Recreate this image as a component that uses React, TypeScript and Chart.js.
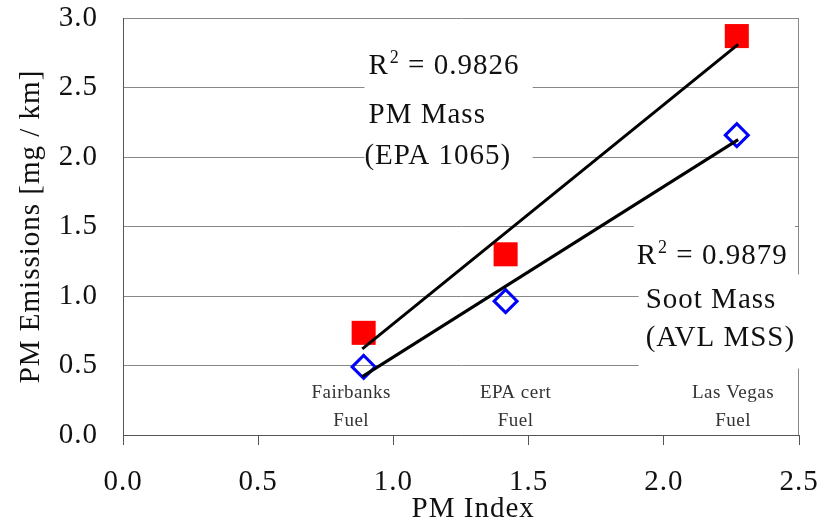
import React, { useEffect, useRef } from "react";
import { Chart, registerables } from "chart.js";

Chart.register(...registerables);

// ---- data ----
const pmIndex = [0.89, 1.415, 2.27];
const pmMass = [0.735, 1.3, 2.87];
const sootMass = [0.49, 0.963, 2.157];
const trendX = [0.885, 2.275];
const pmMassTrend = [0.62, 2.81];
const sootMassTrend = [0.42, 2.125];
const xTickValues = [0, 0.5, 1.0, 1.5, 2.0, 2.5];
const yTickValues = [0, 0.5, 1.0, 1.5, 2.0, 2.5, 3.0];
const fuelNames = [
  ["Fairbanks", "Fuel"],
  ["EPA cert", "Fuel"],
  ["Las Vegas", "Fuel"],
];
const pmMassR2 = "0.9826";
const sootMassR2 = "0.9879";
const pmMassLabel = ["PM Mass", "(EPA 1065)"];
const sootMassLabel = ["Soot Mass", "(AVL MSS)"];
const xTitle = "PM Index";
const yTitle = "PM Emissions [mg / km]";

const FONT = "'Liberation Serif', 'Times New Roman', serif";
const BIG = 29;

const notesPlugin = {
  id: "notes",
  beforeDraw(chart: any) {
    chart.ctx.letterSpacing = "1px";
  },
  beforeDatasetsDraw(chart: any) {
    const { ctx, chartArea: ca, scales } = chart;
    const xs = scales.x;
    const ys = scales.y;
    const px = (v: number) => xs.getPixelForValue(v);
    const py = (v: number) => ys.getPixelForValue(v);
    ctx.save();
    ctx.letterSpacing = "1px";
    // right border of plot
    ctx.strokeStyle = "#888";
    ctx.lineWidth = 1;
    ctx.beginPath();
    ctx.moveTo(Math.round(ca.right) - 0.5, ca.top);
    ctx.lineTo(Math.round(ca.right) - 0.5, ca.bottom);
    ctx.stroke();

    // white boxes behind the notes
    ctx.fillStyle = "#ffffff";
    const box = (x0: number, x1: number, y0: number, y1: number) => {
      ctx.fillRect(px(x0), py(y0), px(x1) - px(x0), py(y1) - py(y0));
    };
    box(0.893, 1.515, 2.85, 1.875);
    box(1.889, 2.485, 1.51, 1.155);
    box(1.907, 2.56, 1.155, 0.478);

    ctx.fillStyle = "#111";
    ctx.textAlign = "left";
    ctx.textBaseline = "alphabetic";
    const drawR2 = (xv: number, yv: number, val: string) => {
      let x = px(xv);
      const y = py(yv);
      ctx.font = `${BIG}px ${FONT}`;
      ctx.fillText("R", x, y);
      x += ctx.measureText("R").width;
      ctx.font = `18px ${FONT}`;
      ctx.fillText("2", x + 1, y - 11);
      x += ctx.measureText("2").width + 1;
      ctx.font = `${BIG}px ${FONT}`;
      ctx.fillText(" = " + val, x, y);
    };
    drawR2(0.908, 2.594, pmMassR2);
    ctx.font = `${BIG}px ${FONT}`;
    ctx.fillText(pmMassLabel[0], px(0.908), py(2.248));
    ctx.fillText(pmMassLabel[1], px(0.893), py(1.953));

    drawR2(1.9, 1.227, sootMassR2);
    ctx.font = `${BIG}px ${FONT}`;
    ctx.fillText(sootMassLabel[0], px(1.933), py(0.917));
    ctx.fillText(sootMassLabel[1], px(1.933), py(0.637));

    // fuel labels
    const fuelX = [0.844, 1.452, 2.256];
    ctx.font = `19px ${FONT}`;
    ctx.fillStyle = "#333";
    ctx.textAlign = "center";
    ctx.textBaseline = "middle";
    ctx.letterSpacing = "0.5px";
    fuelNames.forEach((lines, i) => {
      ctx.fillText(lines[0], px(fuelX[i]), py(0.3));
      ctx.fillText(lines[1], px(fuelX[i]), py(0.104));
    });

    // x-axis title
    ctx.letterSpacing = "1px";
    ctx.font = `${BIG}px ${FONT}`;
    ctx.fillStyle = "#111";
    ctx.textAlign = "center";
    ctx.textBaseline = "middle";
    ctx.fillText(xTitle, px(1.295), 509);
    ctx.restore();
  },
};

const noScalePadding = (s: any) => {
  s.paddingTop = 0;
  s.paddingBottom = 0;
  s.paddingLeft = 0;
  s.paddingRight = 0;
};

export default function App() {
  const ref = useRef<HTMLCanvasElement>(null);
  useEffect(() => {
    document.body.style.margin = "0";
    const canvas = ref.current!;
    const tickFont = { family: FONT, size: BIG, lineHeight: 1.2 };
    const chart = new Chart(canvas, {
      type: "scatter",
      data: {
        datasets: [
          {
            label: "PM Mass trend",
            data: trendX.map((x, i) => ({ x, y: pmMassTrend[i] })),
            showLine: true,
            borderColor: "#000",
            borderWidth: 3,
            pointRadius: 0,
            order: 0,
          },
          {
            label: "Soot Mass trend",
            data: trendX.map((x, i) => ({ x, y: sootMassTrend[i] })),
            showLine: true,
            borderColor: "#000",
            borderWidth: 3,
            pointRadius: 0,
            order: 0,
          },
          {
            label: "PM Mass (EPA 1065)",
            data: pmIndex.map((x, i) => ({ x, y: pmMass[i] })),
            pointStyle: "rect",
            pointRadius: 17,
            backgroundColor: "#ff0000",
            borderColor: "#ff0000",
            borderWidth: 0,
            order: 1,
          },
          {
            label: "Soot Mass (AVL MSS)",
            data: pmIndex.map((x, i) => ({ x, y: sootMass[i] })),
            pointStyle: "rectRot",
            pointRadius: 11.5,
            backgroundColor: "rgba(255,255,255,0)",
            borderColor: "#0000ff",
            borderWidth: 3,
            order: 1,
          },
        ],
      },
      options: {
        animation: false,
        responsive: false,
        events: [],
        layout: { padding: { top: 18, right: 26, left: 0, bottom: 0 } },
        plugins: { legend: { display: false }, tooltip: { enabled: false } },
        scales: {
          x: {
            type: "linear",
            min: 0,
            max: 2.5,
            afterBuildTicks: (s: any) => {
              s.ticks = xTickValues.map((v) => ({ value: v }));
            },
            afterFit: (s: any) => {
              s.height = 90;
              noScalePadding(s);
            },
            grid: {
              display: true,
              drawOnChartArea: false,
              drawTicks: true,
              tickLength: 10,
              color: "#555",
            },
            border: { display: true, color: "#555", width: 1 },
            ticks: {
              font: tickFont,
              color: "#111",
              padding: 20,
              maxRotation: 0,
              callback: (v: any) => Number(v).toFixed(1),
            },
            title: { display: false },
          },
          y: {
            type: "linear",
            min: 0,
            max: 3,
            afterBuildTicks: (s: any) => {
              s.ticks = yTickValues.map((v) => ({ value: v }));
            },
            afterFit: (s: any) => {
              s.width = 123;
              noScalePadding(s);
            },
            grid: {
              display: true,
              drawOnChartArea: true,
              drawTicks: false,
              color: "#888",
              lineWidth: 1,
            },
            border: { display: true, color: "#555", width: 1 },
            ticks: {
              font: tickFont,
              color: "#111",
              padding: 25,
              callback: (v: any) => Number(v).toFixed(1),
            },
            title: {
              display: true,
              text: yTitle,
              font: { family: FONT, size: BIG, lineHeight: 1 },
              color: "#111",
              padding: { top: 17, bottom: 0 },
            },
          },
        },
      },
      plugins: [notesPlugin],
    } as any);
    return () => chart.destroy();
  }, []);
  return <canvas ref={ref} width={825} height={525} style={{ display: "block" }} />;
}
